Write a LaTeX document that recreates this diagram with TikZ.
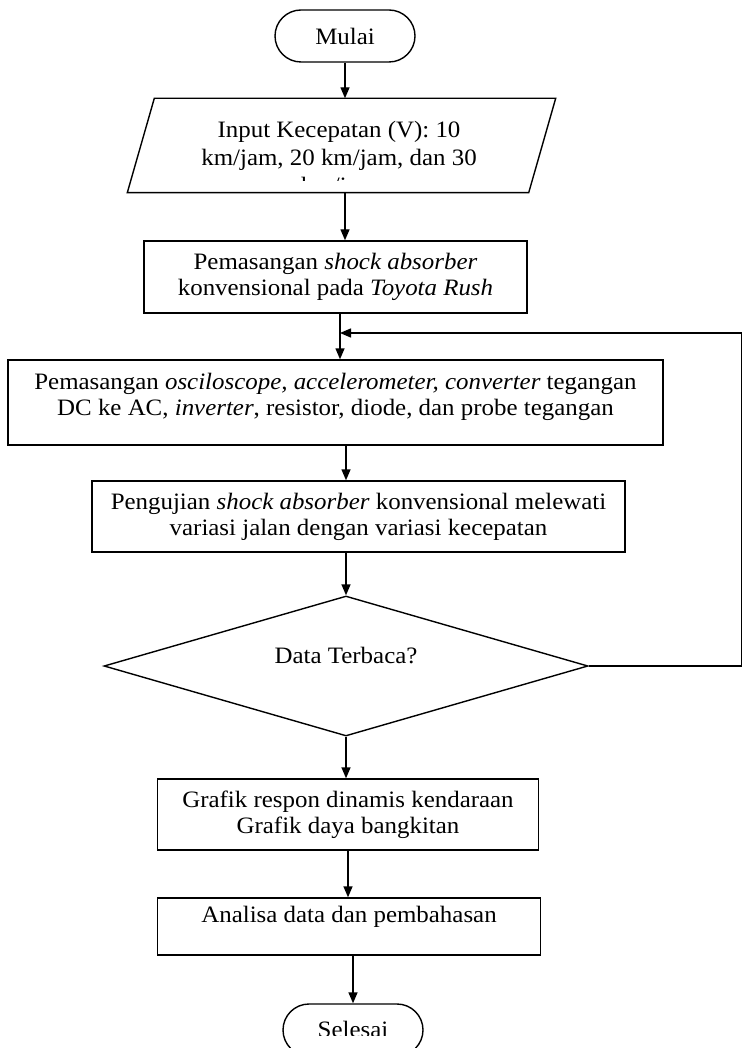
\documentclass[tikz,border=0pt]{standalone}
\usepackage{fontspec}
\setmainfont{Liberation Serif}[FakeStretch=1.06]
\usetikzlibrary{shapes.geometric,shapes.misc,arrows.meta}

\begin{document}
\begin{tikzpicture}[x=1pt,y=-1pt,line width=1.4pt,>={Triangle[length=11pt,width=9pt]},
  every node/.style={font=\fontsize{23.5}{26}\selectfont},
  term/.style={draw,rounded rectangle,minimum width=140,minimum height=52,inner sep=0pt},
  box/.style={draw,align=center,inner sep=0pt}]
\useasboundingbox (0,0) rectangle (743,1048);
\node[term] (mulai) at (345,36) {Mulai};
\node[minimum width=400,minimum height=93,inner sep=0pt] (input) at (341.5,145.5) {};
\draw ([xshift=13.5pt]input.north west) -- ([xshift=13.5pt]input.north east)
  -- ([xshift=-13.5pt]input.south east) -- ([xshift=-13.5pt]input.south west) -- cycle;
\begin{scope}
\clip (100,99) rectangle (600,181);
\node[align=center,inner sep=0pt,anchor=north,font=\fontsize{23.5}{28}\selectfont] (inputtxt) at (339,120)
  {Input Kecepatan (V): 10\\km/jam, 20 km/jam, dan 30\\km/jam};
\end{scope}
\node[box,minimum width=383,minimum height=72] (pasang) at (335.5,277)
  {Pemasangan \textit{shock absorber}\\konvensional pada \textit{Toyota Rush}};
\node[box,minimum width=655,minimum height=85,text depth=16pt] (alat) at (335.5,402.5)
  {Pemasangan \textit{osciloscope, accelerometer, converter} tegangan\\DC ke AC, \textit{inverter}, resistor, diode, dan probe tegangan};
\node[box,minimum width=533,minimum height=71] (uji) at (358.5,516.5)
  {Pengujian \textit{shock absorber} konvensional melewati\\variasi jalan dengan variasi kecepatan};
\node[draw,diamond,aspect=3.46,minimum width=484,minimum height=140,inner sep=0pt,text depth=21pt] (cek) at (346,666) {Data Terbaca?};
\node[box,minimum width=381,minimum height=71] (grafik) at (348,814.5)
  {Grafik respon dinamis kendaraan\\Grafik daya bangkitan};
\node[box,minimum width=383,minimum height=57,text depth=25pt] (analisa) at (349,926.5)
  {Analisa data dan pembahasan};
\node[term] (selesai) at (353,1030) {};
\begin{scope}
\clip (250,1005) rectangle (450,1035);
\node[inner sep=0pt,anchor=base] (selesaitxt) at (353,1037) {Selesai};
\end{scope}
\coordinate (join) at (340,333);
% alur utama
\draw[->] (mulai.south) -- (mulai.south |- input.north);
\draw[->] (input.south -| mulai.south) -- (pasang.north -| mulai.south);
\draw[->] (pasang.south -| join) -- (alat.north -| join);
\draw[->] (alat.south -| cek.north) -- (uji.north -| cek.north);
\draw[->] (uji.south -| cek.north) -- (cek.north);
\draw[->] (cek.south) -- (cek.south |- grafik.north);
\draw[->] (grafik.south -| grafik.north) -- (analisa.north -| grafik.north);
\draw[->] (analisa.south -| selesai.north) -- (selesai.north);
% umpan balik
\draw[->] (cek.east) -- ++(153,0) |- (join);
\end{tikzpicture}
\end{document}
